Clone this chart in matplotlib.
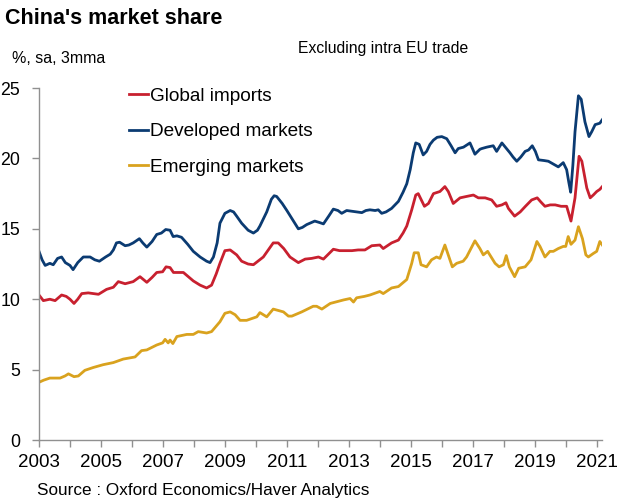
import matplotlib
matplotlib.use('Agg')
from matplotlib import pyplot as plt

plt.rcParams['font.family'] = ['Liberation Sans', 'DejaVu Sans']

# Global imports (decimal year, %)
global_dates = [2003.00, 2003.14, 2003.35, 2003.52, 2003.73, 2003.88, 2004.00, 2004.13, 2004.25, 2004.38,
                2004.59, 2004.92, 2005.18, 2005.40, 2005.56, 2005.78, 2006.04, 2006.26, 2006.48, 2006.65,
                2006.80, 2006.99, 2007.10, 2007.23, 2007.34, 2007.66, 2007.98, 2008.20, 2008.41, 2008.57,
                2008.72, 2008.84, 2009.00, 2009.17, 2009.38, 2009.54, 2009.75, 2009.92, 2010.24, 2010.40,
                2010.56, 2010.72, 2010.90, 2011.10, 2011.37, 2011.59, 2011.80, 2012.02, 2012.18, 2012.50,
                2012.70, 2012.88, 2013.10, 2013.30, 2013.52, 2013.74, 2014.00, 2014.11, 2014.38, 2014.60,
                2014.75, 2014.87, 2015.03, 2015.16, 2015.24, 2015.44, 2015.57, 2015.73, 2015.94, 2016.10,
                2016.21, 2016.37, 2016.59, 2016.80, 2017.02, 2017.18, 2017.40, 2017.61, 2017.77, 2017.94,
                2018.07, 2018.15, 2018.35, 2018.53, 2018.70, 2018.90, 2019.08, 2019.20, 2019.33, 2019.50,
                2019.66, 2019.85, 2020.03, 2020.17, 2020.30, 2020.43, 2020.52, 2020.68, 2020.79, 2020.89,
                2021.00, 2021.10, 2021.18]
global_vals = [10.3, 9.9, 10.0, 9.9, 10.3, 10.2, 10.0, 9.7, 10.0, 10.4,
               10.45, 10.35, 10.7, 10.85, 11.25, 11.1, 11.25, 11.6, 11.2, 11.55,
               11.9, 11.95, 12.3, 12.25, 11.9, 11.9, 11.3, 11.0, 10.8, 11.0,
               11.8, 12.55, 13.45, 13.5, 13.15, 12.7, 12.5, 12.45, 13.0, 13.5,
               14.0, 14.0, 13.6, 13.0, 12.6, 12.85, 12.9, 13.0, 12.85, 13.55,
               13.45, 13.45, 13.45, 13.5, 13.5, 13.8, 13.85, 13.6, 14.0, 14.2,
               14.7, 15.2, 16.35, 17.4, 17.5, 16.6, 16.8, 17.5, 17.65, 18.0,
               17.65, 16.8, 17.2, 17.3, 17.4, 17.2, 17.2, 17.05, 16.6, 16.7,
               16.85, 16.45, 15.9, 16.2, 16.6, 17.05, 17.2, 16.9, 16.6, 16.7,
               16.7, 16.6, 16.6, 15.55, 17.2, 20.15, 19.8, 17.9, 17.2, 17.4,
               17.65, 17.8, 18.0]

# Developed markets
dev_dates = [2003.00, 2003.10, 2003.20, 2003.35, 2003.46, 2003.60, 2003.73, 2003.85, 2004.00, 2004.10,
             2004.25, 2004.43, 2004.65, 2004.80, 2004.95, 2005.15, 2005.30, 2005.40, 2005.50, 2005.60,
             2005.78, 2005.90, 2006.04, 2006.24, 2006.35, 2006.48, 2006.65, 2006.80, 2006.95, 2007.09,
             2007.23, 2007.33, 2007.45, 2007.60, 2007.80, 2007.98, 2008.20, 2008.41, 2008.52, 2008.63,
             2008.75, 2008.84, 2009.00, 2009.17, 2009.28, 2009.38, 2009.54, 2009.75, 2009.92, 2010.05,
             2010.13, 2010.35, 2010.50, 2010.59, 2010.67, 2010.85, 2011.00, 2011.20, 2011.37, 2011.50,
             2011.64, 2011.90, 2012.05, 2012.18, 2012.35, 2012.50, 2012.65, 2012.77, 2012.93, 2013.10,
             2013.25, 2013.42, 2013.55, 2013.68, 2013.85, 2013.95, 2014.06, 2014.20, 2014.38, 2014.60,
             2014.75, 2014.87, 2014.98, 2015.08, 2015.16, 2015.27, 2015.40, 2015.51, 2015.62, 2015.73,
             2015.85, 2016.00, 2016.16, 2016.30, 2016.43, 2016.53, 2016.70, 2016.91, 2017.07, 2017.23,
             2017.29, 2017.45, 2017.66, 2017.77, 2017.94, 2018.05, 2018.20, 2018.30, 2018.42, 2018.55,
             2018.69, 2018.80, 2018.92, 2019.02, 2019.12, 2019.30, 2019.44, 2019.60, 2019.76, 2019.92,
             2020.03, 2020.10, 2020.16, 2020.23, 2020.30, 2020.41, 2020.50, 2020.62, 2020.75, 2020.84,
             2020.95, 2021.10, 2021.18]
dev_vals = [13.4, 12.8, 12.4, 12.55, 12.45, 12.9, 13.0, 12.6, 12.4, 12.1,
            12.6, 13.0, 13.0, 12.8, 12.7, 13.0, 13.2, 13.5, 14.0, 14.05,
            13.8, 13.85, 14.0, 14.3, 14.0, 13.7, 14.1, 14.6, 14.7, 14.95,
            14.9, 14.45, 14.5, 14.4, 13.9, 13.4, 13.0, 12.7, 12.6, 13.0,
            14.0, 15.4, 16.1, 16.3, 16.2, 15.9, 15.4, 14.9, 14.7, 14.9,
            15.2, 16.2, 17.1, 17.35, 17.3, 16.8, 16.3, 15.6, 15.0, 15.1,
            15.3, 15.55, 15.45, 15.35, 15.9, 16.4, 16.3, 16.1, 16.3, 16.25,
            16.2, 16.15, 16.3, 16.35, 16.3, 16.35, 16.1, 16.2, 16.45, 16.95,
            17.6, 18.2, 19.2, 20.4, 21.1, 21.0, 20.25, 20.5, 21.0, 21.3,
            21.5, 21.55, 21.4, 20.9, 20.4, 20.7, 20.8, 21.1, 20.3, 20.65,
            20.7, 20.8, 20.9, 20.5, 21.1, 20.8, 20.4, 20.1, 19.8, 20.1,
            20.5, 20.6, 20.9, 20.5, 19.9, 19.85, 19.8, 19.6, 19.4, 19.7,
            19.2, 18.3, 17.6, 19.5, 21.9, 24.45, 24.2, 22.6, 21.55, 21.9,
            22.4, 22.5, 22.75]

# Emerging markets
em_dates = [2003.00, 2003.15, 2003.35, 2003.68, 2003.84, 2003.95, 2004.13, 2004.27, 2004.48, 2004.75,
            2005.07, 2005.40, 2005.72, 2006.10, 2006.31, 2006.48, 2006.80, 2006.99, 2007.07, 2007.17,
            2007.23, 2007.32, 2007.45, 2007.77, 2007.98, 2008.14, 2008.41, 2008.57, 2008.84, 2009.00,
            2009.17, 2009.33, 2009.49, 2009.70, 2010.03, 2010.13, 2010.35, 2010.56, 2010.89, 2011.05,
            2011.16, 2011.48, 2011.85, 2011.96, 2012.13, 2012.40, 2012.83, 2013.04, 2013.15, 2013.25,
            2013.50, 2013.68, 2014.00, 2014.11, 2014.38, 2014.60, 2014.87, 2015.03, 2015.11, 2015.24,
            2015.33, 2015.51, 2015.67, 2015.83, 2015.94, 2016.10, 2016.34, 2016.48, 2016.69, 2016.80,
            2017.07, 2017.23, 2017.34, 2017.48, 2017.72, 2017.85, 2017.99, 2018.08, 2018.18, 2018.35,
            2018.48, 2018.69, 2018.88, 2019.07, 2019.17, 2019.33, 2019.49, 2019.60, 2019.76, 2019.92,
            2020.00, 2020.08, 2020.17, 2020.30, 2020.41, 2020.54, 2020.65, 2020.73, 2020.89, 2021.00,
            2021.10, 2021.18]
em_vals = [4.1, 4.25, 4.4, 4.4, 4.55, 4.7, 4.5, 4.55, 4.95, 5.15,
           5.35, 5.5, 5.75, 5.9, 6.35, 6.4, 6.75, 6.9, 7.15, 6.9,
           7.1, 6.85, 7.35, 7.5, 7.5, 7.7, 7.6, 7.7, 8.4, 9.0,
           9.1, 8.9, 8.5, 8.5, 8.75, 9.05, 8.75, 9.3, 9.1, 8.8,
           8.8, 9.1, 9.5, 9.5, 9.3, 9.7, 9.95, 10.05, 9.8, 10.1,
           10.2, 10.3, 10.55, 10.4, 10.8, 10.9, 11.4, 12.55, 13.3, 13.3,
           12.45, 12.3, 12.8, 13.0, 12.9, 13.85, 12.3, 12.55, 12.7, 13.0,
           14.15, 13.6, 13.15, 13.4, 12.55, 12.3, 12.45, 13.1, 12.3, 11.6,
           12.2, 12.3, 12.8, 14.1, 13.75, 13.0, 13.4, 13.4, 13.6, 13.75,
           13.75, 14.45, 13.9, 14.2, 15.15, 14.3, 13.15, 13.0, 13.25, 13.4,
           14.1, 13.85]

year_ticks = list(range(2003, 2022))
year_labels = [str(y) if (y - 2003) % 2 == 0 else '' for y in year_ticks]

fig = plt.figure(figsize=(6.32, 5.03), dpi=100)
ax = fig.add_axes([0.0617, 0.1252, 0.8903, 0.6998])

ax.plot(global_dates, global_vals, color='#C8202F', lw=2.0, label='Global imports')
ax.plot(dev_dates, dev_vals, color='#0B3B72', lw=2.0, label='Developed markets')
ax.plot(em_dates, em_vals, color='#D9A21E', lw=2.0, label='Emerging markets')

ax.set_xlim(2003, 2021.16)
ax.set_ylim(0, 25)
ax.set_yticks([0, 5, 10, 15, 20, 25])
ax.set_xticks(year_ticks)
ax.set_xticklabels(year_labels)

for s in ['top', 'right']:
    ax.spines[s].set_visible(False)
for s in ['left', 'bottom']:
    ax.spines[s].set_color('#909090')
    ax.spines[s].set_linewidth(1.0)
ax.tick_params(axis='both', colors='#909090', labelcolor='black',
               direction='out', length=5, width=1.0)
ax.tick_params(axis='x', pad=5, labelsize=13.5)
ax.tick_params(axis='y', pad=8.5, labelsize=12.8)

leg = ax.legend(loc='upper left', bbox_to_anchor=(0.13, 1.05), frameon=False,
                fontsize=13.7, handlelength=1.0, handletextpad=0.1, labelspacing=0.95)

fig.text(0.008, 0.963, "China's market share", fontsize=15.5, fontweight='bold', va='center', ha='left')
fig.text(0.019, 0.883, '%, sa, 3mma', fontsize=11.5, va='center', ha='left')
fig.text(0.471, 0.903, 'Excluding intra EU trade', fontsize=11.3, va='center', ha='left')
fig.text(0.058, 0.025, 'Source : Oxford Economics/Haver Analytics', fontsize=12.3, va='center', ha='left')

plt.savefig('out.png', dpi=100)
